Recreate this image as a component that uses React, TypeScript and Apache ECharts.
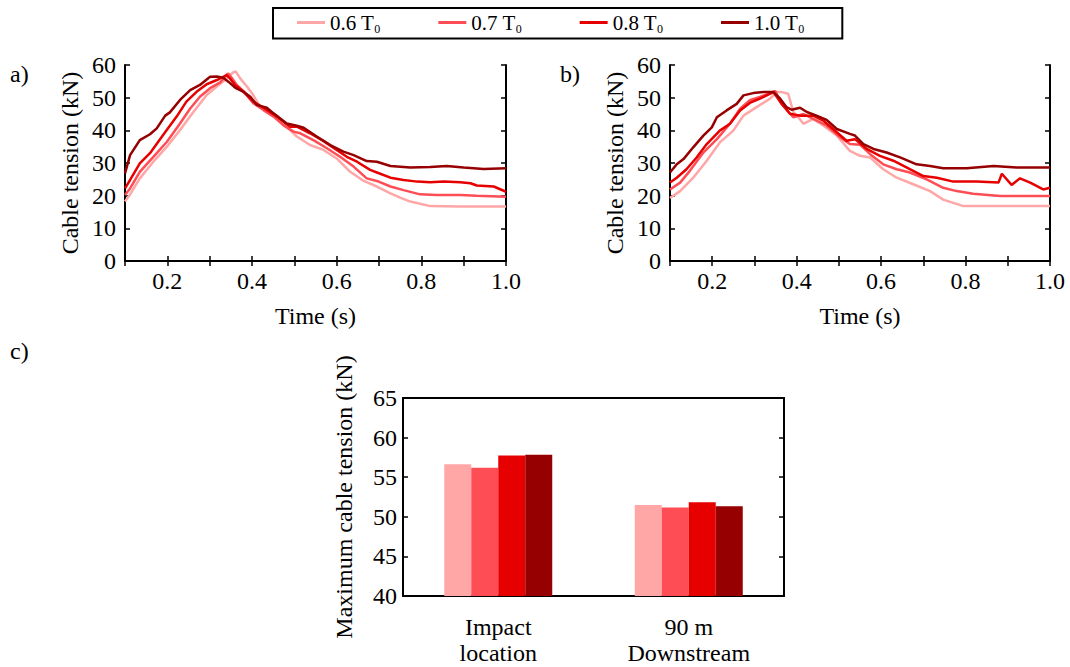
import React, { useEffect, useRef } from "react";
import * as echarts from "echarts";

const seriesNames = ["0.6 T0", "0.7 T0", "0.8 T0", "1.0 T0"];
const colors = ["#FFA6A6", "#FF4D55", "#E60000", "#960000"];

// Panel a) impact location: [time (s), tension (kN)]
const a06 = [[0.1,18.2],[0.112,20.4],[0.135,25.3],[0.167,30.4],[0.199,35],[0.23,40.1],[0.262,45.7],[0.293,50.8],[0.317,53.4],[0.336,55.4],[0.356,57.8],[0.362,58],[0.372,55.9],[0.388,53.4],[0.403,50.8],[0.419,47.2],[0.443,45.7],[0.466,42.7],[0.49,40.1],[0.506,38.1],[0.537,35.5],[0.569,34],[0.6,31.4],[0.632,27.3],[0.664,24.5],[0.695,22.8],[0.727,20.7],[0.75,19.4],[0.774,18.2],[0.821,16.8],[0.892,16.7],[1.0,16.7]];
const a07 = [[0.1,20.2],[0.112,22.2],[0.135,27.3],[0.167,31.9],[0.199,36.5],[0.23,42.1],[0.254,46.7],[0.277,50.3],[0.301,52.9],[0.325,54.7],[0.34,57.1],[0.344,57.4],[0.352,56.1],[0.364,53.9],[0.38,52],[0.403,48.3],[0.427,46.2],[0.451,44.2],[0.474,41.6],[0.498,39.6],[0.514,39.1],[0.545,37],[0.577,34.5],[0.608,31.9],[0.64,28.9],[0.671,25.3],[0.695,24.5],[0.727,22.8],[0.758,21.7],[0.797,20.4],[0.837,20.2],[0.892,20.2],[0.931,20],[1.0,19.7]];
const a08 = [[0.1,22.2],[0.112,24.8],[0.135,29.9],[0.159,33],[0.19,38.6],[0.222,44.2],[0.245,48.8],[0.269,51.8],[0.293,54.1],[0.317,55.4],[0.332,56.4],[0.34,56.9],[0.348,55.9],[0.36,53.9],[0.38,51.8],[0.403,48.8],[0.427,46.9],[0.451,44.9],[0.474,42.7],[0.49,41.1],[0.506,41.1],[0.537,39.1],[0.569,36.7],[0.6,34],[0.624,31.9],[0.648,30.4],[0.679,27.9],[0.695,27.1],[0.727,25.5],[0.758,24.8],[0.79,24.3],[0.821,24.1],[0.853,24.3],[0.892,24.1],[0.916,23.8],[0.931,23.1],[0.971,22.8],[1.0,21.2]];
const a10 = [[0.1,26.8],[0.112,32.4],[0.135,37],[0.159,38.8],[0.175,40.6],[0.195,44.5],[0.206,45.5],[0.23,49.3],[0.254,52.3],[0.277,53.9],[0.301,56.4],[0.317,56.5],[0.332,56.1],[0.344,54.9],[0.36,53.1],[0.38,51.8],[0.396,50.3],[0.411,47.8],[0.435,46.9],[0.451,45.2],[0.482,42.1],[0.506,41.4],[0.522,40.8],[0.553,38.1],[0.585,35.5],[0.616,33.5],[0.64,32.4],[0.671,30.6],[0.695,30.4],[0.727,29.1],[0.774,28.6],[0.821,28.8],[0.86,29.1],[0.9,28.6],[0.947,28.2],[1.0,28.4]];

// Panel b) 90 m downstream
const b06 = [[0.1,19.3],[0.124,21.4],[0.155,25.5],[0.187,30.7],[0.218,36.3],[0.25,39.9],[0.274,44.5],[0.305,47.1],[0.337,49.7],[0.353,51.7],[0.364,51.7],[0.38,51.2],[0.392,45.6],[0.404,44],[0.416,42],[0.439,43.5],[0.463,41.5],[0.495,38.4],[0.526,33.7],[0.55,32.2],[0.574,31.7],[0.605,28.1],[0.637,25.5],[0.676,23.5],[0.716,21.4],[0.747,18.8],[0.795,16.8],[0.842,16.8],[1.0,16.8]];
const b07 = [[0.1,21.9],[0.124,24],[0.147,27.6],[0.179,33.2],[0.211,37.3],[0.242,42],[0.266,46.6],[0.289,49.2],[0.313,50.2],[0.337,51.4],[0.349,52.1],[0.364,48.1],[0.392,44],[0.416,45],[0.439,43.5],[0.471,41.5],[0.503,37.9],[0.526,35.8],[0.55,35.6],[0.574,32.7],[0.605,29.6],[0.637,28.1],[0.668,27.1],[0.708,25],[0.747,22.4],[0.779,21.4],[0.818,20.6],[0.882,19.9],[1.0,19.9]];
const b08 = [[0.1,24],[0.116,25.5],[0.139,28.1],[0.163,31.7],[0.187,35.8],[0.218,39.9],[0.242,42],[0.266,46.1],[0.289,48.4],[0.313,49.7],[0.329,50.7],[0.345,51.7],[0.361,48.7],[0.384,45.1],[0.408,44.5],[0.439,44.5],[0.463,43],[0.495,39.4],[0.518,36.8],[0.538,37.3],[0.566,34.3],[0.597,32.2],[0.629,30.7],[0.668,28.1],[0.7,26],[0.732,25.5],[0.771,24.3],[0.826,24.3],[0.878,24],[0.886,26.7],[0.909,23.3],[0.929,25.3],[0.953,24],[0.984,21.9],[1.0,22.4]];
const b10 = [[0.1,27.1],[0.116,29.6],[0.132,31.2],[0.155,34.8],[0.179,38.4],[0.199,40.9],[0.211,44],[0.234,46.1],[0.258,48.1],[0.274,50.7],[0.297,51.4],[0.321,51.7],[0.345,51.7],[0.361,49.7],[0.376,47.1],[0.388,46.3],[0.408,46.9],[0.424,45.6],[0.447,44.5],[0.471,43.2],[0.495,40.4],[0.526,38.9],[0.538,38.4],[0.558,35.8],[0.582,34.3],[0.613,33.2],[0.645,31.7],[0.684,29.6],[0.716,29.1],[0.747,28.4],[0.803,28.4],[0.866,29.1],[0.921,28.6],[1.0,28.6]];

// Panel c) maximum cable tension
const barCategories = ["Impact\nlocation", "90 m\nDownstream"];
const max06 = [56.65, 51.5];
const max07 = [56.2, 51.17];
const max08 = [57.75, 51.85];
const max10 = [57.83, 51.34];

const FONT = "'Liberation Serif', 'Times New Roman', 'DejaVu Serif', serif";

export default function App() {
  const ref = useRef<HTMLDivElement>(null);
  useEffect(() => {
    if (!ref.current) return;
    const chart = echarts.init(ref.current, undefined, { renderer: "svg" });
    const txt = { color: "#000", fontFamily: FONT, fontSize: 24 };
    const axisLine = { show: true, lineStyle: { color: "#000", width: 2 } };
    const tick = { show: true, inside: true, length: 5, lineStyle: { color: "#000", width: 1.5 } };

    const timeAxes = (gi: number) => [
      {
        type: "value", gridIndex: gi, position: "bottom", min: 0.1, max: 1, interval: 0.1,
        axisLine, axisTick: tick, splitLine: { show: false },
        axisLabel: {
          ...txt, margin: 8,
          formatter: (v: number) => (Math.round(v * 10) % 2 === 0 ? v.toFixed(1) : ""),
        },
        name: "Time (s)", nameLocation: "middle", nameGap: 43, nameTextStyle: txt,
      },
      {
        type: "value", gridIndex: gi, position: "top", min: 0.1, max: 1, interval: 0.1,
        axisLine, axisTick: tick, splitLine: { show: false }, axisLabel: { show: false },
      },
    ];
    const tensionAxes = (gi: number) => [
      {
        type: "value", gridIndex: gi, position: "left", min: 0, max: 60, interval: 10,
        axisLine, axisTick: tick, splitLine: { show: false },
        axisLabel: { ...txt, margin: 9 },
        name: "Cable tension (kN)", nameLocation: "middle", nameGap: 43, nameTextStyle: txt,
      },
      {
        type: "value", gridIndex: gi, position: "right", min: 0, max: 60, interval: 10,
        axisLine, axisTick: tick, splitLine: { show: false }, axisLabel: { show: false },
      },
    ];

    const lineSeries = (data: number[][], i: number, xi: number, yi: number) => ({
      type: "line", name: seriesNames[i], data, xAxisIndex: xi, yAxisIndex: yi,
      showSymbol: false, symbol: "none", color: colors[i],
      lineStyle: { width: 2.5, color: colors[i] }, z: 2 + i,
    });

    const barVals = [max06, max07, max08, max10];

    chart.setOption({
      animation: false,
      backgroundColor: "#fff",
      textStyle: { fontFamily: FONT },
      legend: {
        left: 273, top: 8,
        data: seriesNames,
        icon: "rect", itemWidth: 28, itemHeight: 3, itemGap: 58,
        borderColor: "#000", borderWidth: 2, borderRadius: 0,
        padding: [4, 38, 4, 24],
        formatter: (n: string) => `{t|${n.slice(0, -1)}}{s|0}`,
        textStyle: {
          color: "#000", fontFamily: FONT, fontSize: 21,
          rich: {
            t: { fontFamily: FONT, fontSize: 21, color: "#000", lineHeight: 24, verticalAlign: "middle" },
            s: { fontFamily: FONT, fontSize: 12, color: "#000", lineHeight: 12, verticalAlign: "bottom" },
          },
        },
      },
      grid: [
        { left: 125, top: 65, width: 381, height: 196 },
        { left: 670, top: 65, width: 380, height: 196 },
        { left: 403, top: 398, width: 381, height: 198 },
      ],
      xAxis: [
        ...timeAxes(0),
        ...timeAxes(1),
        {
          type: "category", gridIndex: 2, position: "bottom", data: barCategories,
          axisLine, axisTick: { show: false }, splitLine: { show: false },
          axisLabel: { ...txt, margin: 18, lineHeight: 26 },
        },
        {
          type: "category", gridIndex: 2, position: "top", data: barCategories,
          axisLine, axisTick: { show: false }, axisLabel: { show: false },
        },
      ],
      yAxis: [
        ...tensionAxes(0),
        ...tensionAxes(1),
        {
          type: "value", gridIndex: 2, position: "left", min: 40, max: 65, interval: 5,
          axisLine, axisTick: tick, splitLine: { show: false },
          axisLabel: { ...txt, margin: 6 },
          name: "Maximum cable tension (kN)", nameLocation: "middle", nameGap: 47, nameTextStyle: txt,
        },
        {
          type: "value", gridIndex: 2, position: "right", min: 40, max: 65, interval: 5,
          axisLine, axisTick: tick, splitLine: { show: false }, axisLabel: { show: false },
        },
      ],
      graphic: [
        { type: "text", left: 10, top: 62, style: { text: "a)", fill: "#000", font: `24px ${FONT}` } },
        { type: "text", left: 560, top: 62, style: { text: "b)", fill: "#000", font: `24px ${FONT}` } },
        { type: "text", left: 10, top: 339, style: { text: "c)", fill: "#000", font: `24px ${FONT}` } },
      ],
      series: [
        lineSeries(a06, 0, 0, 0),
        lineSeries(a07, 1, 0, 0),
        lineSeries(a08, 2, 0, 0),
        lineSeries(a10, 3, 0, 0),
        lineSeries(b06, 0, 2, 2),
        lineSeries(b07, 1, 2, 2),
        lineSeries(b08, 2, 2, 2),
        lineSeries(b10, 3, 2, 2),
        ...barVals.map((vals, i) => ({
          type: "bar", name: seriesNames[i], data: vals, xAxisIndex: 4, yAxisIndex: 4,
          barWidth: 27, barGap: "0%", color: colors[i], itemStyle: { color: colors[i] },
        })),
      ],
    });
    return () => chart.dispose();
  }, []);
  return (
    <div
      ref={ref}
      style={{ position: "fixed", left: 0, top: 0, width: 1070, height: 667, background: "#fff" }}
    />
  );
}
